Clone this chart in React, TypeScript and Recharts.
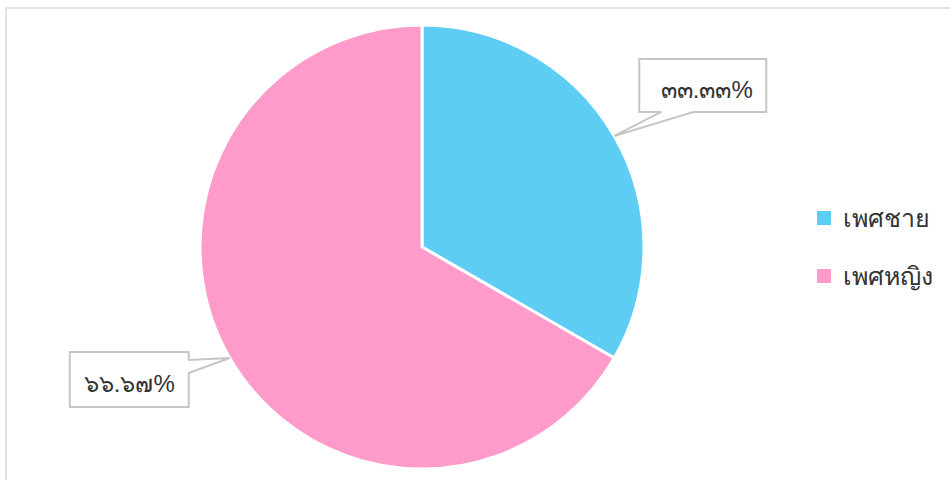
import React from "react";
import { PieChart, Pie, Cell, Legend } from "recharts";

const categories = ["เพศชาย", "เพศหญิง"];
const values = [33.33, 66.67];
const colors = ["#5ECDF4", "#FF9BCB"];

const data = categories.map((name, i) => ({ name, value: values[i] }));

const THAI_DIGITS = ["๐", "๑", "๒", "๓", "๔", "๕", "๖", "๗", "๘", "๙"];
const toThai = (s: string) => s.replace(/[0-9]/g, (d) => THAI_DIGITS[Number(d)]);

const FONT = "sans-serif";
const BOX_STROKE = "#c6c6c6";

const renderLabel = (props: any) => {
  const { cx, cy, midAngle, outerRadius, percent } = props;
  const RAD = Math.PI / 180;
  const tx = cx + outerRadius * Math.cos(-midAngle * RAD);
  const ty = cy + outerRadius * Math.sin(-midAngle * RAD);
  const text = toThai((percent * 100).toFixed(2)) + "%";
  if (tx >= cx) {
    const L = tx + 25;
    const T = ty - 77;
    const W = 127;
    const H = 53;
    const R = L + W;
    const B = T + H;
    const d = `M${L},${T} H${R} V${B} H${L + 54} L${tx},${ty} L${L + 22},${B} H${L} Z`;
    return (
      <g>
        <path d={d} fill="#ffffff" stroke={BOX_STROKE} strokeWidth={2} />
        <text x={L + W / 2 + 4} y={T + 39} textAnchor="middle" fontSize={24} fill="#333333" fontFamily={FONT}>
          {text}
        </text>
      </g>
    );
  }
  const R = tx - 41;
  const T = ty - 6;
  const W = 119;
  const H = 55;
  const L = R - W;
  const B = T + H;
  const d = `M${L},${T} H${R} V${ty + 2} L${tx},${ty} L${R},${ty + 15} V${B} H${L} Z`;
  return (
    <g>
      <path d={d} fill="#ffffff" stroke={BOX_STROKE} strokeWidth={2} />
      <text x={L + W / 2} y={T + 40} textAnchor="middle" fontSize={24} fill="#333333" fontFamily={FONT}>
        {text}
      </text>
    </g>
  );
};

const renderLegend = (props: any) => {
  const { payload } = props;
  return (
    <div style={{ fontFamily: FONT }}>
      {payload.map((entry: any, i: number) => (
        <div key={i} style={{ display: "flex", alignItems: "center", height: 58 }}>
          <span
            style={{
              display: "inline-block",
              width: 14,
              height: 14,
              background: entry.color,
              marginRight: 12,
            }}
          />
          <span style={{ fontSize: 25, color: "#333333" }}>{entry.value}</span>
        </div>
      ))}
    </div>
  );
};

export default function App() {
  return (
    <div style={{ position: "absolute", left: 0, top: 0, width: 950, height: 480, overflow: "hidden", background: "#fff" }}>
      <div
        style={{
          position: "absolute",
          left: 5,
          top: 7,
          width: 1000,
          height: 520,
          border: "2px solid #e2e2e2",
        }}
      />
      <div style={{ position: "absolute", left: 0, top: 0 }}>
        <PieChart width={950} height={480} margin={{ top: 0, right: 0, bottom: 0, left: 0 }}>
          <Pie
            data={data}
            dataKey="value"
            nameKey="name"
            cx={422}
            cy={247}
            outerRadius={222}
            startAngle={90}
            endAngle={-270}
            stroke="#ffffff"
            strokeWidth={3}
            label={renderLabel}
            labelLine={false}
            isAnimationActive={false}
          >
            {data.map((_, i) => (
              <Cell key={i} fill={colors[i]} />
            ))}
          </Pie>
          <Legend
            layout="vertical"
            content={renderLegend}
            wrapperStyle={{ left: 817, top: 189, width: 130 }}
          />
        </PieChart>
      </div>
    </div>
  );
}
